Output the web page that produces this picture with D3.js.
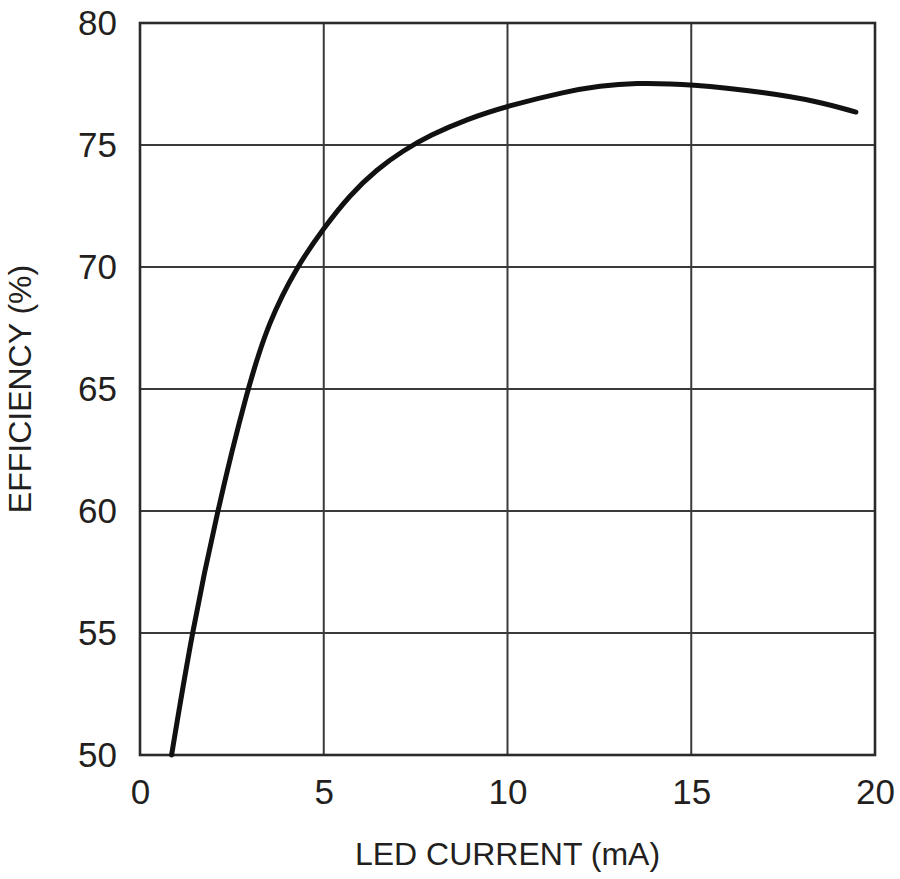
<!DOCTYPE html>
<html>
<head>
<meta charset="utf-8">
<script src="https://cdn.jsdelivr.net/npm/d3@7"></script>
<style>
  html, body { margin: 0; padding: 0; background: #fff; }
  svg { display: block; }
  text { font-family: "Liberation Sans", Arial, sans-serif; fill: #231f20; }
</style>
</head>
<body>
<svg id="chart" width="900" height="879"></svg>
<script>
// Data
const ledCurrent = [0.86, 1.41, 2.10, 2.92, 3.50, 4.26, 5.0, 5.71, 6.44, 7.17, 7.89, 8.9, 10.0, 11.61, 12.52, 13.42, 15.0, 17.05, 18.41, 19.48];
const efficiency = [50.0, 55.0, 60.0, 65.0, 67.75, 70.0, 71.6, 72.95, 74.0, 74.78, 75.4, 76.06, 76.6, 77.2, 77.42, 77.55, 77.5, 77.15, 76.8, 76.35];
const xTicks = [0, 5, 10, 15, 20];
const yTicks = [50, 55, 60, 65, 70, 75, 80];
const xLabel = "LED CURRENT (mA)";
const yLabel = "EFFICIENCY (%)";

const svg = d3.select("#chart");
const margin = { left: 140, right: 25, top: 23, bottom: 124 };
const W = 900, H = 879;

const x = d3.scaleLinear().domain([0, 20]).range([margin.left, W - margin.right]);
const y = d3.scaleLinear().domain([50, 80]).range([H - margin.bottom, margin.top]);

// Gridlines
const grid = svg.append("g");
grid.selectAll("line.v").data(xTicks.slice(1, -1)).join("line")
  .attr("x1", d => x(d)).attr("x2", d => x(d))
  .attr("y1", y(50)).attr("y2", y(80))
  .attr("stroke", "#3a3a3a").attr("stroke-width", 2);
grid.selectAll("line.h").data(yTicks.slice(1, -1)).join("line")
  .attr("x1", x(0)).attr("x2", x(20))
  .attr("y1", d => y(d)).attr("y2", d => y(d))
  .attr("stroke", "#3a3a3a").attr("stroke-width", 2);

// Frame
svg.append("rect")
  .attr("x", x(0)).attr("y", y(80))
  .attr("width", x(20) - x(0)).attr("height", y(50) - y(80))
  .attr("fill", "none").attr("stroke", "#2a2a2a").attr("stroke-width", 2.6);

// Curve
const pts = ledCurrent.map((v, i) => [v, efficiency[i]]);
const line = d3.line().x(d => x(d[0])).y(d => y(d[1])).curve(d3.curveBasis);
svg.append("path").datum(pts)
  .attr("d", line)
  .attr("fill", "none").attr("stroke", "#111").attr("stroke-width", 5)
  .attr("stroke-linecap", "round").attr("stroke-linejoin", "round");

// Axes (labels only)
const xAxis = svg.append("g").attr("transform", `translate(0,${y(50)})`)
  .call(d3.axisBottom(x).tickValues(xTicks).tickSize(0).tickPadding(24));
xAxis.select(".domain").remove();
xAxis.selectAll("text").attr("font-size", 35).style("font-family", "'Liberation Sans', Arial, sans-serif").attr("fill", "#231f20");

const yAxis = svg.append("g").attr("transform", `translate(${x(0)},0)`)
  .call(d3.axisLeft(y).tickValues(yTicks).tickSize(0).tickPadding(23));
yAxis.select(".domain").remove();
yAxis.selectAll("text").attr("font-size", 35).style("font-family", "'Liberation Sans', Arial, sans-serif").attr("fill", "#231f20");

// Axis titles
svg.append("text")
  .attr("x", (x(0) + x(20)) / 2).attr("y", 865)
  .attr("text-anchor", "middle").attr("font-size", 32)
  .text(xLabel);

svg.append("text")
  .attr("transform", `translate(31,${(y(50) + y(80)) / 2}) rotate(-90)`)
  .attr("text-anchor", "middle").attr("font-size", 32)
  .text(yLabel);
</script>
</body>
</html>
